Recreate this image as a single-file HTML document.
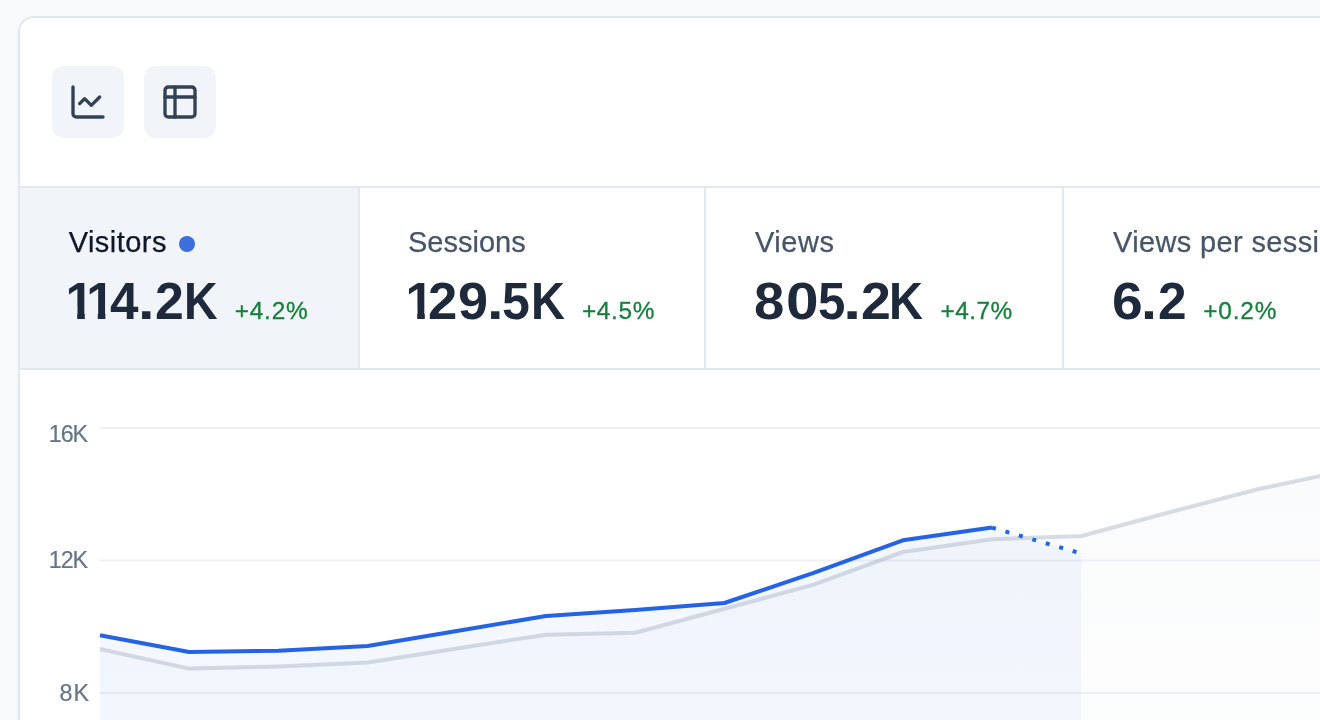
<!DOCTYPE html>
<html lang="en">
<head>
<meta charset="utf-8">
<title>Analytics</title>
<style>
*{box-sizing:border-box;margin:0;padding:0}
html,body{width:1320px;height:720px;overflow:hidden;background:#f8fafc;font-family:"Liberation Sans",sans-serif}
.card{position:absolute;left:18px;top:16px;width:1400px;height:800px;background:#fff;border:2px solid #e2e8f0;border-radius:16px;box-shadow:0 2px 4px rgba(15,23,42,.04)}
.btn{position:absolute;top:66px;width:72px;height:72px;border-radius:12px;background:#f1f5f9}
.btn svg{position:absolute;left:16px;top:16px;width:40px;height:40px;fill:none;stroke:#334155;stroke-width:2;stroke-linecap:round;stroke-linejoin:round}
.hline{position:absolute;left:20px;width:1300px;height:2px;background:#e2e8f0}
.vline{position:absolute;top:188px;width:2px;height:180px;background:#e2e8f0}
.sel{position:absolute;left:20px;top:188px;width:338px;height:180px;background:#f1f5f9}
.t{position:absolute;white-space:nowrap;line-height:1;transform-origin:0 0}
.lbl{font-size:29px;-webkit-text-stroke:0.25px currentColor;color:#475569}
.num{font-size:51px;font-weight:700;color:#1e293b}
.num i{position:absolute;top:0;font-style:normal;transform-origin:0 0;display:block}
.pct{font-size:24.4px;-webkit-text-stroke:0.3px currentColor;color:#15803d}
.ax{font-size:23.3px;-webkit-text-stroke:0.2px currentColor;color:#64748b}
.dot{position:absolute;left:179px;top:236px;width:16px;height:16px;border-radius:50%;background:#3d6fdc}
svg.chart{position:absolute;left:0;top:0;width:1320px;height:720px}
</style>
</head>
<body>
<div class="card"></div>

<div class="btn" style="left:52px"><svg viewBox="0 0 24 24"><path d="M3 3v16a2 2 0 0 0 2 2h16"/><path d="m19 9-5 5-4-4-3 3"/></svg></div>
<div class="btn" style="left:144px"><svg viewBox="0 0 24 24"><rect x="3" y="3" width="18" height="18" rx="2"/><path d="M3 9h18"/><path d="M9 3v18"/></svg></div>

<div class="hline" style="top:186px"></div>
<div class="sel"></div>
<div class="hline" style="top:368px"></div>
<div class="vline" style="left:358px"></div>
<div class="vline" style="left:704px"></div>
<div class="vline" style="left:1062px"></div>

<span class="t lbl" id="l1" style="left:68.7px;top:227.9px;letter-spacing:0.46px;color:#0f172a">Visitors</span><span class="dot"></span>
<span class="t num" id="n1" style="left:0;top:275.8px"><i style="left:65.60px;clip-path:polygon(0 0,19.2px 0,19.2px 100%,11.6px 100%,11.6px 60%,0 60%)">1</i><i style="left:86.20px;clip-path:polygon(0 0,19.2px 0,19.2px 100%,11.6px 100%,11.6px 60%,0 60%)">1</i><i style="left:109.70px;transform:scaleX(1.004)">4</i><i style="left:138.32px;transform:scaleX(1.167)">.</i><i style="left:154.97px;transform:scaleX(1.016)">2</i><i style="left:183.80px;transform:scaleX(0.912)">K</i></span>
<span class="t pct" id="p1" style="left:234.8px;top:298.8px;letter-spacing:0.75px">+4.2%</span>

<span class="t lbl" id="l2" style="left:407.9px;top:227.9px;letter-spacing:0.03px">Sessions</span>
<span class="t num" id="n2" style="left:0;top:275.8px"><i style="left:405.60px;clip-path:polygon(0 0,19.2px 0,19.2px 100%,11.6px 100%,11.6px 60%,0 60%)">1</i><i style="left:428.44px;transform:scaleX(1.033)">2</i><i style="left:458.39px;transform:scaleX(1.061)">9</i><i style="left:486.72px;transform:scaleX(1.167)">.</i><i style="left:502.43px;transform:scaleX(0.980)">5</i><i style="left:530.77px;transform:scaleX(0.921)">K</i></span>
<span class="t pct" id="p2" style="left:581.9px;top:298.8px;letter-spacing:0.70px">+4.5%</span>

<span class="t lbl" id="l3" style="left:754.9px;top:227.9px;letter-spacing:0.60px">Views</span>
<span class="t num" id="n3" style="left:0;top:275.8px"><i style="left:754.29px;transform:scaleX(1.067)">8</i><i style="left:785.50px;transform:scaleX(1.148)">0</i><i style="left:817.66px;transform:scaleX(0.964)">5</i><i style="left:843.28px;transform:scaleX(1.292)">.</i><i style="left:860.50px;transform:scaleX(1.053)">2</i><i style="left:889.27px;transform:scaleX(0.921)">K</i></span>
<span class="t pct" id="p3" style="left:940.6px;top:298.8px;letter-spacing:0.45px">+4.7%</span>

<span class="t lbl" id="l4" style="left:1113.0px;top:227.9px;letter-spacing:0.36px">Views per session</span>
<span class="t num" id="n4" style="left:0;top:275.8px"><i style="left:1112.25px;transform:scaleX(1.081)">6</i><i style="left:1140.96px;transform:scaleX(1.125)">.</i><i style="left:1157.59px;transform:scaleX(1.008)">2</i></span>
<span class="t pct" id="p4" style="left:1203.2px;top:298.8px;letter-spacing:0.85px">+0.2%</span>

<svg class="chart" viewBox="0 0 1320 720">
  <defs>
    <linearGradient id="gb" gradientUnits="userSpaceOnUse" x1="0" y1="527" x2="0" y2="720"><stop offset="0" stop-color="#2563eb" stop-opacity="0.052"/><stop offset="1" stop-color="#2563eb" stop-opacity="0.048"/></linearGradient>
    <linearGradient id="gg" gradientUnits="userSpaceOnUse" x1="0" y1="470" x2="0" y2="720"><stop offset="0" stop-color="#94a3b8" stop-opacity="0.045"/><stop offset="1" stop-color="#94a3b8" stop-opacity="0.02"/></linearGradient>
  </defs>
  <g stroke="#eff1f5" stroke-width="2">
    <line x1="100" y1="428" x2="1320" y2="428"/>
    <line x1="100" y1="560.5" x2="1320" y2="560.5"/>
    <line x1="100" y1="693" x2="1320" y2="693"/>
  </g>
  <path d="M100 635.3 L189.2 652 L278.4 650.7 L367.6 646 L456.8 631 L546 616 L635.2 610 L724.4 603 L813.6 572.8 L902.8 540.3 L992 527.6 L1081.2 553.5 L1081.2 760 L100 760 Z" fill="url(#gb)"/>
  <path d="M100 649 L189.2 668.6 L278.4 666.5 L367.6 662.6 L456.8 648.5 L546 634.7 L635.2 632.7 L724.4 608.8 L813.6 584.6 L902.8 552 L992 539.2 L1081.2 536 L1170.4 512 L1259.6 488.8 L1348.8 470 L1348.8 760 L100 760 Z" fill="url(#gg)"/>
  <path d="M100 649 L189.2 668.6 L278.4 666.5 L367.6 662.6 L456.8 648.5 L546 634.7 L635.2 632.7 L724.4 608.8 L813.6 584.6 L902.8 552 L992 539.2 L1081.2 536 L1170.4 512 L1259.6 488.8 L1348.8 470" fill="none" stroke="rgba(148,163,184,0.37)" stroke-width="4" stroke-linejoin="round"/>
  <path d="M100 635.3 L189.2 652 L278.4 650.7 L367.6 646 L456.8 631 L546 616 L635.2 610 L724.4 603 L813.6 572.8 L902.8 540.3 L992 527.6" fill="none" stroke="#2563e6" stroke-width="4" stroke-linejoin="round"/>
  <path d="M992 527.6 L1081.2 553.5" fill="none" stroke="#2563e6" stroke-width="4" stroke-dasharray="4 10"/>
</svg>

<span class="t ax" id="a1" style="left:48.8px;top:422.9px;letter-spacing:-1.10px">16K</span>
<span class="t ax" id="a2" style="left:48.8px;top:549.3px;letter-spacing:-1.10px">12K</span>
<span class="t ax" id="a3" style="left:59.5px;top:682.1px;letter-spacing:1.00px">8K</span>
</body>
</html>
